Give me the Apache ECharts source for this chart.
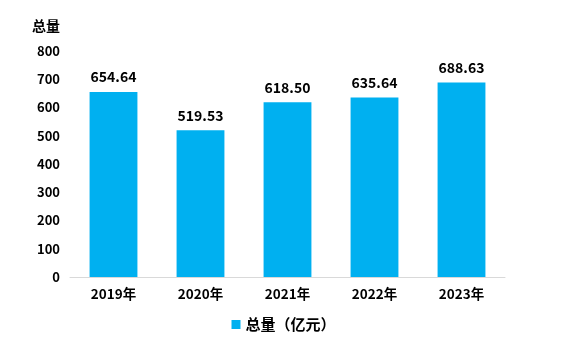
<!DOCTYPE html>
<html>
<head>
<meta charset="utf-8">
<title>总量</title>
<style>
  html, body { margin: 0; padding: 0; background: #fff; }
</style>
</head>
<body>
<div id="main" style="width: 567px;height:344px;"></div>
<script src="https://cdn.jsdelivr.net/npm/echarts@6/dist/echarts.min.js"></script>
<script>
    var years = ['2019年', '2020年', '2021年', '2022年', '2023年'];
    var totals = [654.64, 519.53, 618.50, 635.64, 688.63];
    var seriesName = '总量（亿元）';
    var fontFam = '"Noto Sans CJK SC", "Noto Sans", sans-serif';

    var myChart = echarts.init(document.getElementById('main'));
    var option = {
        animation: false,
        textStyle: { fontFamily: fontFam },
        grid: { left: 70, right: 62, top: 51, bottom: 67 },
        legend: {
            data: [seriesName],
            bottom: 7,
            left: 'center',
            itemWidth: 9,
            itemHeight: 9,
            itemGap: 6,
            icon: 'rect',
            textStyle: { fontSize: 15, fontWeight: 'bold', color: '#000', fontFamily: fontFam }
        },
        xAxis: {
            type: 'category',
            data: years,
            axisTick: { show: false },
            axisLine: { lineStyle: { color: '#d9d9d9', width: 1 } },
            axisLabel: { color: '#000', fontWeight: 'bold', fontSize: 13.5, margin: 10, fontFamily: fontFam }
        },
        yAxis: {
            type: 'value',
            name: '总量',
            nameLocation: 'end',
            nameGap: 18,
            nameTextStyle: { color: '#000', fontWeight: 'bold', fontSize: 14, align: 'right', padding: [0, 10, 0, 0] },
            min: 0,
            max: 800,
            interval: 100,
            splitLine: { show: false },
            axisLine: { show: false },
            axisTick: { show: false },
            axisLabel: { color: '#000', fontWeight: 'bold', fontSize: 13, margin: 10, fontFamily: fontFam }
        },
        series: [{
            name: seriesName,
            type: 'bar',
            data: totals,
            barWidth: '55%',
            itemStyle: { color: '#00B0F0' },
            label: {
                show: true,
                position: 'top',
                distance: 8,
                color: '#000',
                fontWeight: 'bold',
                fontSize: 14,
                formatter: function (p) { return p.value.toFixed(2); }
            }
        }]
    };
    myChart.setOption(option);
</script>
</body>
</html>
